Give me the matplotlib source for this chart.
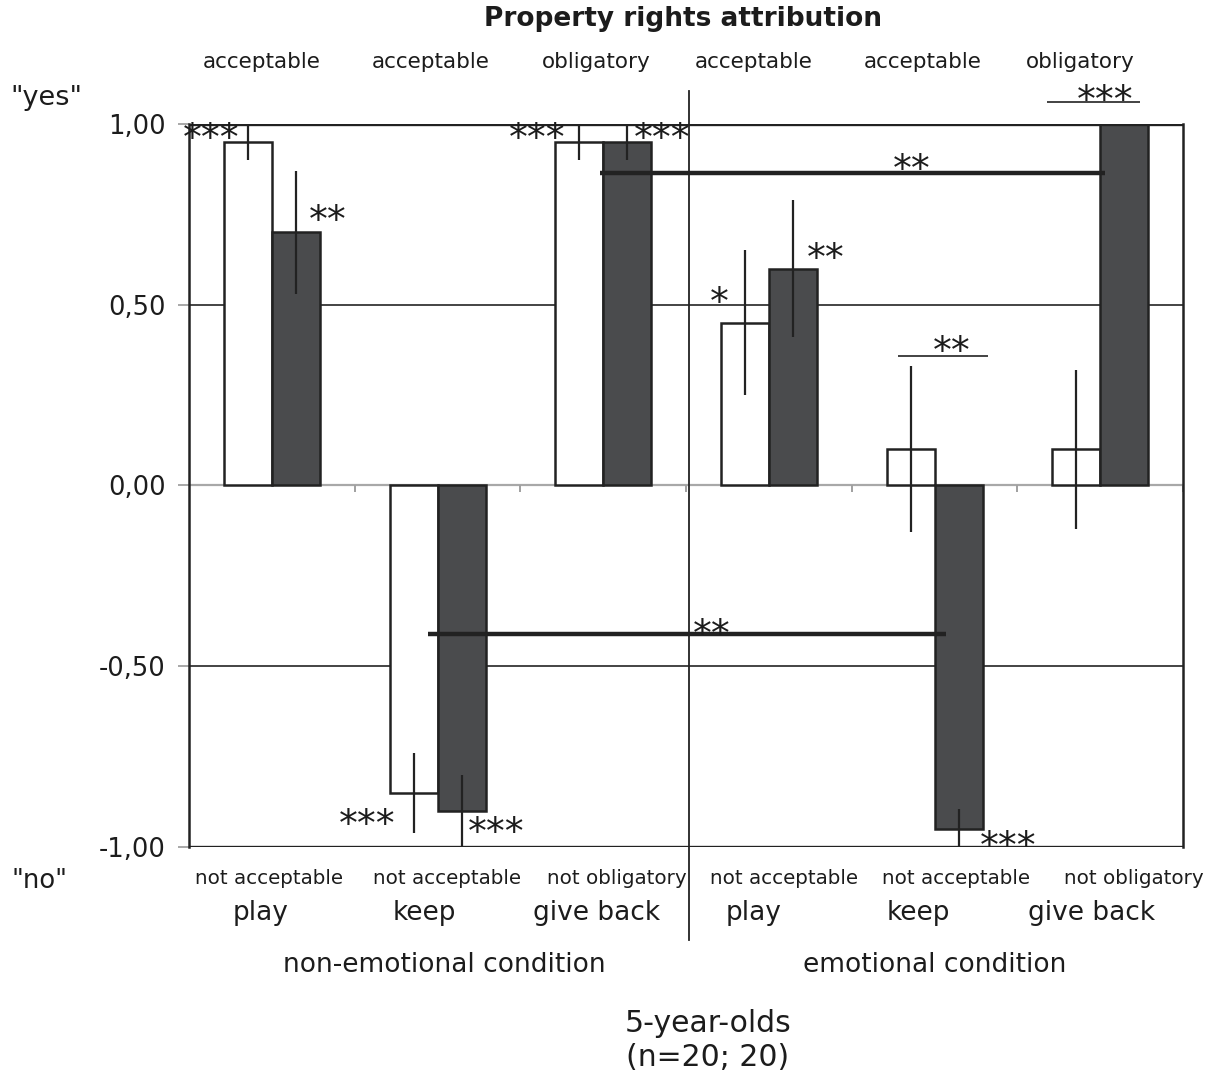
import matplotlib
matplotlib.use("Agg")
import matplotlib.pyplot as plt
import matplotlib.transforms as mtransforms
import numpy as np

plt.rcParams["font.family"] = ["DejaVu Sans"]

# ---- data -------------------------------------------------------------
actions = ["play", "keep", "give back", "play", "keep", "give back"]
yes_labels = ["acceptable", "acceptable", "obligatory",
              "acceptable", "acceptable", "obligatory"]
no_labels = ["not acceptable", "not acceptable", "not obligatory",
             "not acceptable", "not acceptable", "not obligatory"]
conditions = ["non-emotional condition", "emotional condition"]

white_means = [0.95, -0.85, 0.95, 0.45, 0.10, 0.10]
white_err = [0.05, 0.11, 0.05, 0.20, 0.23, 0.22]
dark_means = [0.70, -0.90, 0.95, 0.60, -0.95, 1.00]
dark_err = [0.17, 0.10, 0.05, 0.19, 0.055, 0.0]

ytick_vals = [-1.0, -0.5, 0.0, 0.5, 1.0]
ytick_labels = ["-1,00", "-0,50", "0,00", "0,50", "1,00"]

# significance marks: (x, y, text)
stars = [(-0.367, 0.979, "***"), (0.339, 0.752, "**"),
         (1.600, 0.979, "***"), (2.355, 0.979, "***"),
         (2.699, 0.526, "*"), (3.344, 0.647, "**"),
         (0.574, -0.918, "***"), (1.353, -0.941, "***"),
         (4.443, -0.979, "***"),
         (3.863, 0.893, "**"), (2.656, -0.393, "**"),
         (4.105, 0.390, "**"), (5.028, 1.084, "***")]
# comparison bars: (x0, x1, y, linewidth)
brackets = [(1.98, 5.03, 0.863, 3.2), (0.94, 4.07, -0.41, 3.2),
            (3.78, 4.32, 0.357, 1.2), (4.68, 5.24, 1.062, 1.2)]

# ---- figure -------------------------------------------------------------
fig = plt.figure(figsize=(12.15, 10.75), dpi=100)
ax = fig.add_axes([0.1556, 0.2121, 0.8181, 0.6726])

x = np.arange(len(actions))
w = 0.29
edge = "#222222"
dark = "#4a4b4d"
ink = "#1c1c1c"

ax.axhline(0, color="#a8a8a8", lw=1.6, zorder=1)
for yv in (-0.5, 0.5):
    ax.axhline(yv, color="#111111", lw=1.1, zorder=1)
for yv in (-1.0, 1.0):
    ax.axhline(yv, color="#222222", lw=2.4, zorder=4)

ax.bar(x - w / 2, white_means, w, color="white", edgecolor=edge,
       linewidth=1.8, zorder=2)
ax.bar(x + w / 2, dark_means, w, color=dark, edgecolor=edge,
       linewidth=1.8, zorder=2)
ax.errorbar(x - w / 2, white_means, yerr=white_err, fmt="none",
            ecolor=edge, elinewidth=1.6, capsize=0, zorder=3)
ax.errorbar(x + w / 2, dark_means, yerr=dark_err, fmt="none",
            ecolor=edge, elinewidth=1.6, capsize=0, zorder=3)

# small ticks along the zero line between groups
bounds = np.arange(-0.5, len(actions) + 0.5, 1.0)
ax.vlines(bounds, -0.019, 0, color="#a0a0a0", lw=1.4, zorder=1)

ax.set_xlim(-0.5, len(actions) - 0.5)
ax.set_ylim(-1.0, 1.0)
ax.set_xticks([])
ax.set_yticks(ytick_vals)
ax.set_yticklabels(ytick_labels, fontsize=18.5, color=ink)
ax.tick_params(axis="y", length=8, width=1.2, color="#999999", pad=9)
for side in ("left", "right"):
    ax.spines[side].set_linewidth(1.8)
    ax.spines[side].set_color("#222222")
for side in ("top", "bottom"):
    ax.spines[side].set_visible(False)

# divider between the two conditions
ax.plot([2.517, 2.517], [1.09, -1.256], color="#222222", lw=1.3,
        clip_on=False, zorder=5)

for x0, x1, yv, lw in brackets:
    ax.plot([x0, x1], [yv, yv], color="#222222", lw=lw,
            solid_capstyle="butt", zorder=5, clip_on=False)

star_fs = 27
star_shift = mtransforms.offset_copy(ax.transData, fig=fig, x=0,
                                     y=-0.23 * star_fs, units="points")
for sx, sy, s in stars:
    ax.text(sx, sy, s, transform=star_shift, ha="center", va="center",
            fontsize=star_fs, color=ink, zorder=6, clip_on=False)

# category labels above and below the plot
blend = mtransforms.blended_transform_factory(ax.transData, fig.transFigure)
top_x = [-0.06, 0.96, 1.96, 2.91, 3.93, 4.88]
no_x = [-0.02, 1.06, 2.08, 3.09, 4.13, 5.20]
act_x = [-0.07, 0.92, 1.96, 2.91, 3.90, 4.95]
for i in range(len(actions)):
    ax.text(top_x[i], 1 - 62 / 1075, yes_labels[i], transform=blend,
            ha="center", va="center", fontsize=15.5, color=ink)
    ax.text(no_x[i], 1 - 878 / 1075, no_labels[i], transform=blend,
            ha="center", va="center", fontsize=14.3, color=ink)
    ax.text(act_x[i], 1 - 913 / 1075, actions[i], transform=blend,
            ha="center", va="center", fontsize=19, color=ink)
for cx, label in zip([1.04, 4.0], conditions):
    ax.text(cx, 1 - 965 / 1075, label, transform=blend,
            ha="center", va="center", fontsize=19, color=ink)

ax.text(2.63, 1 - 1023 / 1075, "5-year-olds", transform=blend,
        ha="center", va="center", fontsize=21.5, color=ink)
ax.text(2.63, 1 - 1057 / 1075, "(n=20; 20)", transform=blend,
        ha="center", va="center", fontsize=21.5, color=ink)
ax.text(2.48, 1 - 19 / 1075, "Property rights attribution", transform=blend,
        ha="center", va="center", fontsize=19, fontweight="bold",
        color=ink)

fig.text(46 / 1215, 1 - 98 / 1075, '"yes"', ha="center", va="center",
         fontsize=19.5, color=ink)
fig.text(40 / 1215, 1 - 881 / 1075, '"no"', ha="center", va="center",
         fontsize=18.6, color=ink)

fig.savefig("out.png", dpi=100, facecolor="white")
